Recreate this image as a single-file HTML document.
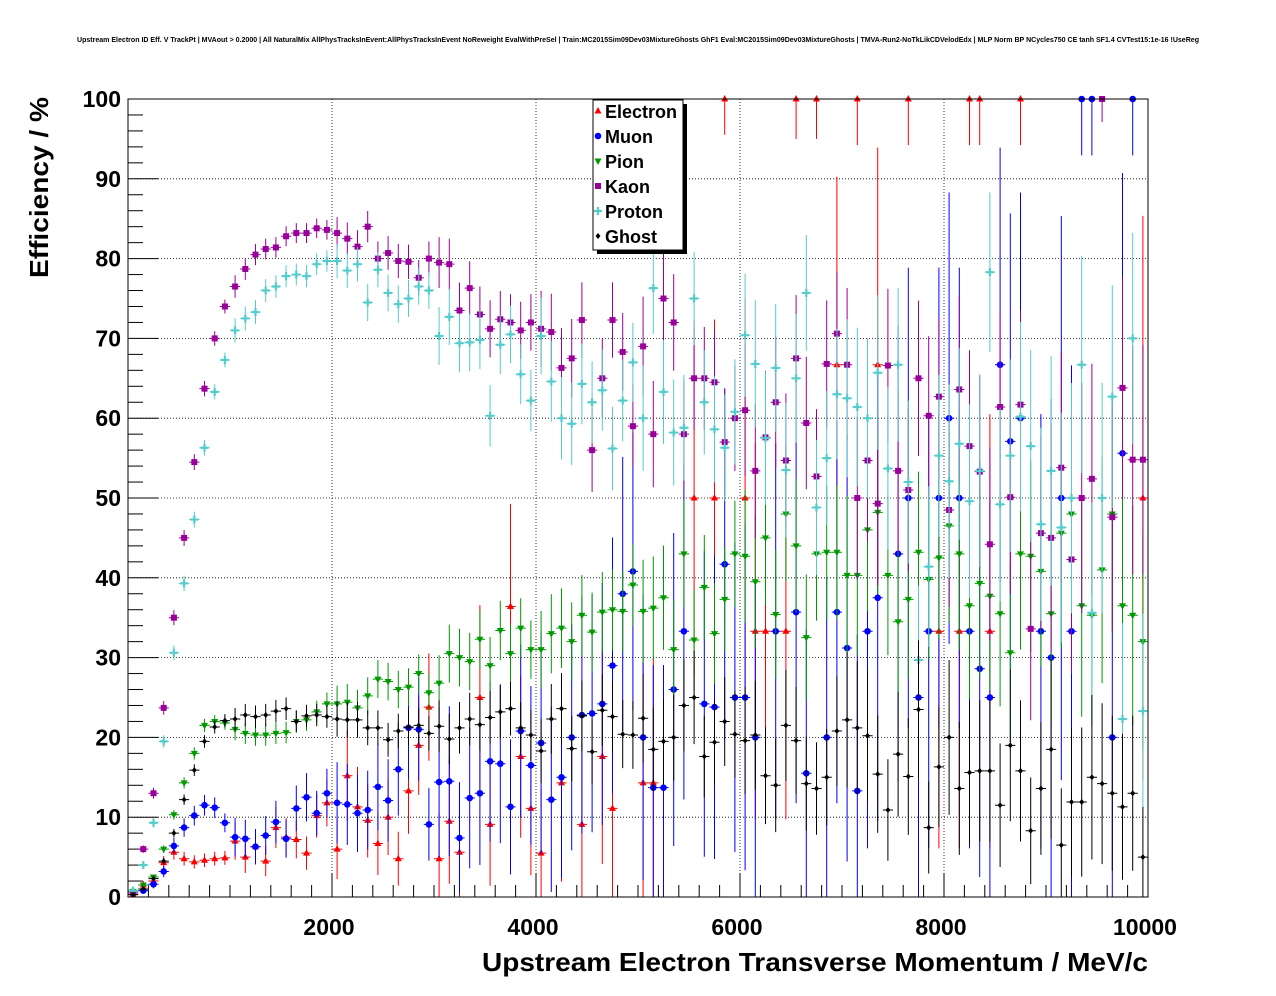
<!DOCTYPE html>
<html><head><meta charset="utf-8">
<style>
html,body{margin:0;padding:0;background:#fff;}
svg{display:block;font-family:"Liberation Sans",Arial,sans-serif;}
</style></head>
<body>
<svg id="chart" width="1276" height="996" viewBox="0 0 1276 996">
<rect x="0" y="0" width="1276" height="996" fill="#fff"/>
<text x="638" y="42" font-size="7" font-weight="bold" text-anchor="middle" textLength="1122" lengthAdjust="spacingAndGlyphs">Upstream Electron ID Eff. V TrackPt | MVAout &gt; 0.2000 | All NaturalMix AllPhysTracksInEvent:AllPhysTracksInEvent NoReweight EvalWithPreSel | Train:MC2015Sim09Dev03MixtureGhosts GhF1 Eval:MC2015Sim09Dev03MixtureGhosts | TMVA-Run2-NoTkLikCDVelodEdx | MLP Norm BP NCycles750 CE tanh SF1.4 CVTest15:1e-16 !UseReg</text>
<g id="grid"></g>
<g id="axes"></g>
<g id="marks"></g>
<rect x="128" y="99" width="1020" height="798" fill="none" stroke="#000" stroke-width="1"/>
<text x="482" y="971" font-size="26" font-weight="bold" textLength="666" lengthAdjust="spacingAndGlyphs">Upstream Electron Transverse Momentum / MeV/c</text>
<text transform="translate(48,278) rotate(-90)" font-size="26" font-weight="bold" textLength="181" lengthAdjust="spacingAndGlyphs">Efficiency / %</text>
<g>
<rect x="597" y="104" width="90" height="150" fill="#000"/>
<rect x="593" y="100" width="90" height="150" fill="#fff" stroke="#000" stroke-width="1"/>
<g id="legend-entries"></g>
</g>
</svg>
<script>
const xMin=0,xMax=10000,yMin=0,yMax=100;
const L=128,R=1148,T=99,B=897;
function sx(v){return L+(v-xMin)/(xMax-xMin)*(R-L);}
function sy(v){return B-(v-yMin)/(yMax-yMin)*(B-T);}
const NS="http://www.w3.org/2000/svg";
function mk(tag,attrs,parent){const e=document.createElementNS(NS,tag);for(const k in attrs)e.setAttribute(k,attrs[k]);parent.appendChild(e);return e;}

const xTickLabels=[2000,4000,6000,8000,10000];
const yTickLabels=[0,10,20,30,40,50,60,70,80,90,100];
const binWidth=100;

const kaonValues=[0.5,6,13,23.7,35,45,54.5,63.7,70,74,76.5,78.7,80.5,81.2,81.4,82.8,83.2,83.2,83.8,83.6,83.2,82.5,81.5,84,80,80.7,79.7,79.6,77.6,80,79.5,79.3,73.5,76.3,73,71.2,72.4,72,71,72,71.2,70.8,66.3,67.5,72.3,56,65,72.3,68.3,59,69,58,75,72,58,65,65,64.5,57,60,61,53.4,57.6,62,54.7,67.5,59.4,52.7,66.8,70.6,66.7,50,54.7,49.3,66.6,53.4,51,65,60.3,62.7,48.5,63.6,56.5,53.3,44.2,61.4,50.1,61.7,33.6,45.6,45,53.8,42.3,50,52.4,100,47.6,63.8,54.8,54.8];
const protonValues=[0.8,4,9.3,19.5,30.6,39.3,47.3,56.3,63.3,67.3,71,72.5,73.3,76,76.5,77.8,78,77.8,79.3,79.7,79.7,78.5,79.3,74.5,78.6,75.7,74.3,75,76.5,76,70.3,72.7,69.4,69.5,69.8,60.3,69.2,70.5,65.5,62.2,70.3,64.6,60,59.3,64.3,62,63.5,56.2,62.2,67,60,76.3,63.3,58.2,58.8,75,62,58.6,56.3,60.8,70.4,66.8,57.5,66.3,53.5,65,75.7,48.8,55,63,62.5,61.4,60,65.7,53.7,66.7,52,29.7,41.4,55.3,52.1,56.8,49.6,53.4,78.3,49.2,55.3,60.2,56.5,46.7,53.4,46.3,50,66.7,35.6,50,62.7,22.3,70,23.3];
const pionValues=[0.7,1.5,2.5,6,10.3,14.3,18,21.5,22,21.8,21,20.5,20.3,20.3,20.5,20.6,22,22.2,23.2,24.2,24.2,24.4,23.7,25.2,27.3,27,26,26.3,28,25.6,26.8,30.5,30,29.5,32.3,29,33.4,30.5,33.7,31,31,33,33.7,32,35.3,33.2,35.7,36,35.8,39.1,35.8,36.2,37.5,31,43,32.2,38.8,33,37.3,43,42.7,39.5,45,35.4,48,44,32.5,43,43.2,43.2,40.3,40.3,46,48.2,40.3,34.5,37.3,43.2,39.8,42.5,46.5,43,36.5,39.3,37.7,35.5,30.6,43,42.7,40.8,35.5,45.6,48,36.5,35.3,41,48,36.5,35.3,32];
const ghostValues=[0.3,1,2.3,4.5,8,12.2,15.9,19.5,21.3,22.1,22.3,22.8,22.6,22.8,23.3,23.6,22,22.7,22.8,22.6,22.3,22.2,22.2,21.2,21.2,19.7,20.8,21.3,21.5,20.5,21.4,19.8,21.2,22.3,21.6,22.5,23.2,23.6,21.2,20.3,18.3,22.3,23.6,18.6,22.7,18.2,23.4,22.6,20.4,20.3,22.4,18.5,19.5,20,24,25,17.6,19.4,22,20.4,19.6,20.3,15.2,14,21.5,19.6,14.2,13.6,15,20.8,22.2,21.2,20.2,15.4,10.9,17.9,15.1,23.5,8.7,16.3,20,13.6,15.6,15.8,15.8,11.5,19,15.8,8.3,13.6,18.5,6.5,11.9,11.9,15,14.2,13,11.3,13,5];

const muonX=[50,150,250,350,450,550,650,750,850,950,1050,1150,1250,1350,1450,1550,1650,1750,1850,1950,2050,2150,2250,2350,2450,2550,2650,2750,2850,2950,3050,3150,3250,3350,3450,3550,3650,3750,3850,3950,4050,4150,4250,4350,4450,4550,4650,4750,4850,4950,5050,5150,5250,5350,5450,5650,5750,5850,5950,6050,6150,6350,6550,6650,6850,6950,7050,7150,7250,7350,7550,7650,7750,7850,7950,8050,8150,8250,8350,8450,8550,8650,8750,8950,9050,9150,9250,9350,9450,9650,9750,9850];
const muonValues=[0.5,0.8,1.6,3.2,6.4,8.7,10.2,11.5,11.2,9.3,7.5,7.3,6.3,7.7,9.4,7.3,11.1,12.5,10.5,13,11.8,11.6,10.5,10.9,13.8,12.1,16,21.2,21,9.1,14.4,14.5,7.4,12.4,13,17,16.7,11.3,20.8,16.5,19.3,12.2,15,20,22.8,23,24.2,29,38,40.8,20,13.7,13.7,26,33.3,24.2,23.8,41.7,25,25,20,33.3,35.7,15.5,20,35.7,31.2,13.3,33.3,37.5,43,50,25,33.3,50,60,50,33.3,28.6,25,66.7,57.1,60,33.3,30,50,33.3,100,100,20,55.6,100,44.4].slice(0,92);
const electronX=[50,150,250,350,450,550,650,750,850,950,1050,1150,1250,1350,1450,1550,1650,1750,1850,1950,2050,2150,2250,2350,2450,2550,2650,2750,2850,2950,3050,3150,3250,3450,3550,3750,3850,3950,4050,4250,4450,4650,4750,5050,5150,5550,5750,5850,6050,6150,6250,6450,6550,6750,6950,7150,7350,7650,7950,8150,8250,8350,8450,8750,9950];
const electronValues=[0.3,1.5,2,4.3,5.6,4.8,4.4,4.6,4.8,4.9,7,5,6.3,4.5,8.7,7.5,7.2,5.5,10.2,11.8,6,15.2,11.3,9.6,6.7,10,4.8,13.3,19,23.8,4.8,9.5,5.6,25,9.1,36.4,17.6,11.1,5.5,14.3,9.1,17.6,11.1,14.3,14.3,50,50,100,50,33.3,33.3,33.3,100,100,66.7,100,66.7,100,33.3,33.3,100,100,33.3,100,50];

const entriesDense=[2500,900,350,160,90,55,35,24,17,12];
const entriesSparse=[600,120,40,14,8,5,4,3,3,2];

function err(x,p,entries){const d=Math.min(9,Math.floor(x/1000));const n=entries[d];return Math.sqrt(Math.max(p*(100-p),100)/n);}

const series=[
 {name:'electron',label:'Electron',color:'#ff0000',marker:'tri-up',xs:electronX,ys:electronValues,ent:entriesSparse},
 {name:'muon',label:'Muon',color:'#0000ff',marker:'circle',xs:muonX,ys:muonValues,ent:entriesSparse},
 {name:'pion',label:'Pion',color:'#009900',marker:'tri-down',xs:pionValues.map((v,i)=>binWidth*i+binWidth/2),ys:pionValues,ent:entriesDense},
 {name:'kaon',label:'Kaon',color:'#990099',marker:'square',xs:kaonValues.map((v,i)=>binWidth*i+binWidth/2),ys:kaonValues,ent:entriesDense},
 {name:'proton',label:'Proton',color:'#55cccc',marker:'cross',xs:protonValues.map((v,i)=>binWidth*i+binWidth/2),ys:protonValues,ent:entriesDense},
 {name:'ghost',label:'Ghost',color:'#000000',marker:'diamond',xs:ghostValues.map((v,i)=>binWidth*i+binWidth/2),ys:ghostValues,ent:entriesDense}
];

function marker(g,type,x,y,c){
 let e;
 if(type==='tri-up')e=mk('polygon',{points:`${x},${y-4} ${x-3.5},${y+2.5} ${x+3.5},${y+2.5}`,fill:c},g);
 else if(type==='tri-down')e=mk('polygon',{points:`${x},${y+4} ${x-3.5},${y-2.5} ${x+3.5},${y-2.5}`,fill:c},g);
 else if(type==='circle')e=mk('circle',{cx:x,cy:y,r:3.3,fill:c},g);
 else if(type==='square')e=mk('rect',{x:x-3,y:y-3,width:6,height:6,fill:c},g);
 else if(type==='cross')e=mk('path',{d:`M${x-4},${y}H${x+4}M${x},${y-4}V${y+4}`,stroke:c,'stroke-width':2.2,fill:'none'},g);
 else e=mk('polygon',{points:`${x},${y-3} ${x+2.5},${y} ${x},${y+3} ${x-2.5},${y}`,fill:c},g);
 return e;
}

const grid=document.getElementById('grid'),axes=document.getElementById('axes');
xTickLabels.forEach(v=>{
 if(v<xMax){const gl=mk('line',{x1:sx(v),x2:sx(v),y1:T,y2:B,stroke:'#000','stroke-width':0.8,'stroke-dasharray':'1,2'},grid);
 }
 const t=mk('text',{x:sx(v)-3,y:935,'font-size':23,'font-weight':'bold','text-anchor':'middle'},axes);t.textContent=v;
 
 
});
for(let v=0;v<=xMax;v+=200){mk('line',{x1:sx(v),x2:sx(v),y1:B,y2:B-(v%2000===0?24:12),stroke:'#000','stroke-width':1},axes);}
yTickLabels.forEach(v=>{
 if(v>yMin&&v<yMax){const gl=mk('line',{x1:L,x2:R,y1:sy(v),y2:sy(v),stroke:'#000','stroke-width':0.8,'stroke-dasharray':'1,2'},grid);
 }
 const t=mk('text',{x:121,y:sy(v)+8,'font-size':23,'font-weight':'bold','text-anchor':'end'},axes);t.textContent=v;
 
 
});
for(let v=0;v<=yMax;v+=2){mk('line',{x1:L,x2:L+(v%10===0?30:15),y1:sy(v),y2:sy(v),stroke:'#000','stroke-width':1},axes);}

const marks=document.getElementById('marks');
series.forEach(s=>{
 const g=mk('g',{},marks);
 
 
 s.xs.forEach((xv,i)=>{
  const yv=s.ys[i];if(yv==null)return;
  const x=sx(xv),y=sy(yv);const e=err(xv,yv,s.ent);
  const y1=sy(Math.min(100,yv+e)),y2=sy(Math.max(0,yv-e));
  mk('path',{d:`M${sx(xv-binWidth/2)},${y}H${sx(xv+binWidth/2)}M${x},${y1}V${y2}`,stroke:s.color,'stroke-width':1,fill:'none'},g);
  const m=marker(g,s.marker,x,y,s.color);
  
  
 });
});

const le=document.getElementById('legend-entries');
series.forEach((s,i)=>{
 const y=111+i*25;
 const g=mk('g',{},le);
 
 
 marker(g,s.marker,598,y,s.color);
 const t=mk('text',{x:605,y:y+7,'font-size':18,'font-weight':'bold'},g);t.textContent=s.label;
});
</script>
</body></html>
